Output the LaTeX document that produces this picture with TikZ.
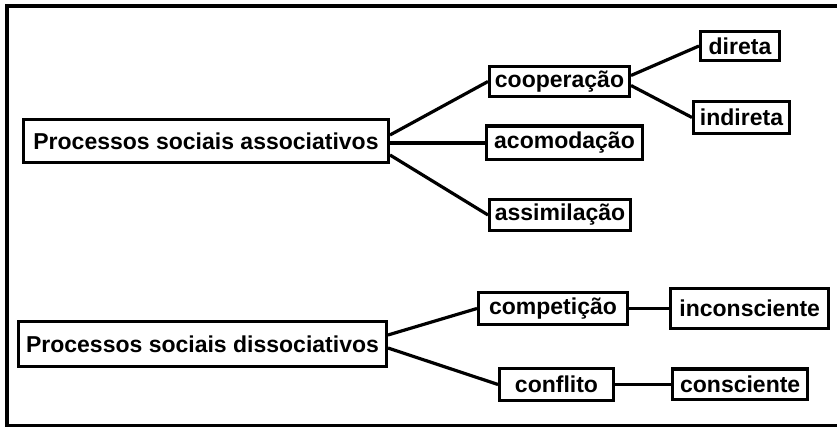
\documentclass[tikz,border=0pt]{standalone}
\usepackage{fontspec}
\setmainfont{Liberation Sans}
\usetikzlibrary{positioning,calc}
\pgfmathsetmacro{\boxline}{3.2}
\tikzset{
  procbox/.style={draw, rectangle, inner sep=0pt, line width=\boxline pt,
    font=\fontsize{23}{27}\selectfont\bfseries},
  link/.style={line width=\boxline pt},
}

\begin{document}
\begin{tikzpicture}[x=1pt, y=1pt]
    \useasboundingbox (0,0) rectangle (837,427);
    % frame
    \draw[line width=\boxline pt] (837,421) -- (7,421) -- (7,1.6) -- (837,1.6);
    % associative processes
    \node[procbox, minimum width=364.8pt, minimum height=42.8pt] (soc_assoc) at (206,286) {Processos sociais associativos};
    \node[procbox, minimum width=139.8pt, minimum height=29.8pt] (coop) at ($(soc_assoc) + (353.5,59.5)$) {cooperação};
    \node[procbox, minimum width=155.8pt, minimum height=33.8pt] (acom) at ($(soc_assoc) + (358.5,-2)$) {acomodação};
    \node[procbox, minimum width=140.8pt, minimum height=30.8pt] (assim) at ($(soc_assoc) + (354,-74)$) {assimilação};
    \node[procbox, minimum width=78.8pt, minimum height=28.8pt] (coop_dir) at ($(coop) + (180.5,35.5)$) {direta};
    \node[procbox, minimum width=95.8pt, minimum height=31.8pt] (coop_ind) at ($(coop) + (182,-36)$) {indireta};
    % dissociative processes
    \node[procbox, minimum width=367.8pt, minimum height=44.8pt] (soc_dissoc) at (202.5,83) {Processos sociais dissociativos};
    \node[procbox, minimum width=148.8pt, minimum height=31.8pt] (compet) at ($(soc_dissoc) + (350.5,35.5)$) {competição};
    \node[procbox, minimum width=113.8pt, minimum height=31.8pt] (confl) at ($(soc_dissoc) + (354,-40.5)$) {conflito};
    \node[procbox, minimum width=157.8pt, minimum height=39.8pt, right=40.2pt of compet] (incons) {inconsciente};
    \node[procbox, minimum width=134.8pt, minimum height=30.8pt, right=56.2pt of confl] (cons) {consciente};
    % connectors
    \draw[link] ([yshift=6pt]soc_assoc.east) -- (coop.west);
    \draw[link] ([yshift=-2pt]soc_assoc.east) -- (acom.west);
    \draw[link] ([yshift=-14pt]soc_assoc.east) -- (assim.west);
    \draw[link] ([yshift=6pt]coop.east) -- (coop_dir.west);
    \draw[link] ([yshift=-4pt]coop.east) -- (coop_ind.west);
    \draw[link] ([yshift=9pt]soc_dissoc.east) -- (compet.west);
    \draw[link] ([yshift=-4pt]soc_dissoc.east) -- (confl.west);
    \draw[link] (compet) -- (incons);
    \draw[link] (confl) -- (cons);
\end{tikzpicture}
\end{document}
